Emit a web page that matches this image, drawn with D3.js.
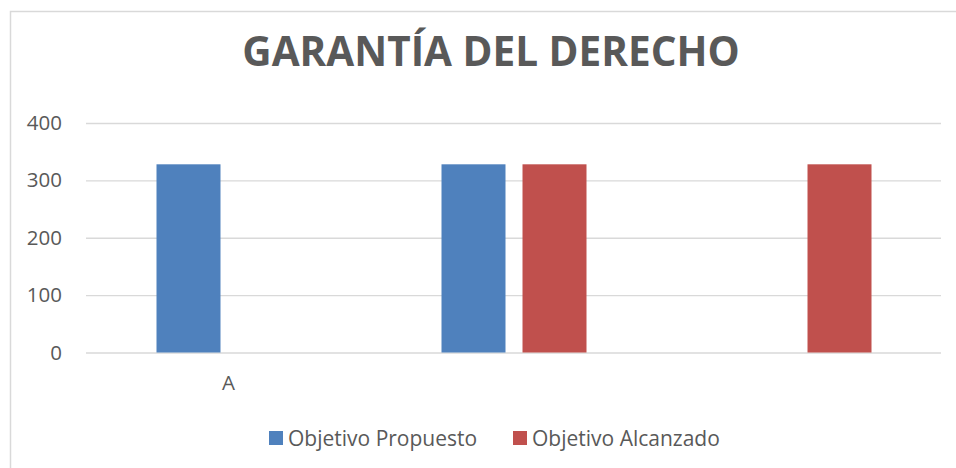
<!DOCTYPE html>
<html>
<head>
<meta charset="utf-8">
<script src="https://cdn.jsdelivr.net/npm/d3@7"></script>
<style>
  body { margin: 0; background: #fff; }
  text { font-family: "Open Sans", sans-serif; fill: #595959; }
</style>
</head>
<body>
<div id="chart"></div>
<script>
// Data
const categories = ["A", "", ""];
const seriesNames = ["Objetivo Propuesto", "Objetivo Alcanzado"];
const propuesto = [328, 328, 0];
const alcanzado = [0, 328, 328];
const yTicks = [0, 100, 200, 300, 400];
const colors = ["#4F81BD", "#C0504D"];

const width = 956, height = 468;
const plot = { left: 86, right: 941, top: 123, bottom: 352.5 };

const svg = d3.select("#chart").append("svg")
       .attr("width", width)
       .attr("height", height);

// chart frame
svg.append("rect")
       .attr("x", 10.5).attr("y", 11.5)
       .attr("width", 980).attr("height", 480)
       .attr("fill", "#fff")
       .attr("stroke", "#D9D9D9")
       .attr("stroke-width", 1.5);

// Title
svg.append("text")
       .attr("x", 491).attr("y", 66)
       .attr("text-anchor", "middle")
       .style("font-size", "40.5px")
       .style("font-weight", "bold")
       .text("GARANTÍA DEL DERECHO");

const x = d3.scaleBand()
       .domain(d3.range(categories.length))
       .range([plot.left, plot.right]);

const xSub = d3.scaleBand()
       .domain(seriesNames)
       .range([-72, 73])
       .paddingInner(0.21);

const y = d3.scaleLinear()
       .domain([0, 400])
       .range([plot.bottom, plot.top]);

// Gridlines
const grid = svg.append("g")
       .attr("transform", `translate(${plot.left},0)`)
       .call(d3.axisLeft(y).tickValues(yTicks).tickSize(-(plot.right - plot.left)).tickFormat(""));
grid.select(".domain").remove();
grid.selectAll("line").attr("stroke", "#D9D9D9").attr("stroke-width", 1.3);

// Y labels
const yAxis = svg.append("g")
       .attr("transform", `translate(${plot.left},0)`)
       .call(d3.axisLeft(y).tickValues(yTicks).tickSize(0).tickPadding(24));
yAxis.select(".domain").remove();
yAxis.selectAll("text")
       .attr("fill", "#595959")
       .style("font-family", "'Open Sans', sans-serif")
       .style("font-size", "20.5px");

// X labels
const xAxis = svg.append("g")
       .attr("transform", `translate(0,${plot.bottom})`)
       .call(d3.axisBottom(x).tickSize(0).tickPadding(23).tickFormat(i => categories[i]));
xAxis.select(".domain").remove();
xAxis.selectAll("text")
       .attr("fill", "#595959")
       .style("font-family", "'Open Sans', sans-serif")
       .style("font-size", "20.5px");

// Bars
const seriesData = [propuesto, alcanzado];
seriesData.forEach((vals, s) => {
       svg.append("g")
              .selectAll("rect")
              .data(vals)
              .enter()
              .append("rect")
              .attr("x", (d, i) => x(i) + x.bandwidth() / 2 + xSub(seriesNames[s]))
              .attr("y", d => y(d))
              .attr("width", xSub.bandwidth())
              .attr("height", d => y(0) - y(d))
              .attr("fill", colors[s]);
});

// Legend
const legendItems = [
       { name: seriesNames[0], x: 269 },
       { name: seriesNames[1], x: 513 }
];
const legend = svg.append("g");
legendItems.forEach((item, s) => {
       legend.append("rect")
              .attr("x", item.x).attr("y", 431)
              .attr("width", 14).attr("height", 14)
              .attr("fill", colors[s]);
       legend.append("text")
              .attr("x", item.x + 19).attr("y", 445.5)
              .style("font-size", "21px")
              .text(item.name);
});
</script>
</body>
</html>
